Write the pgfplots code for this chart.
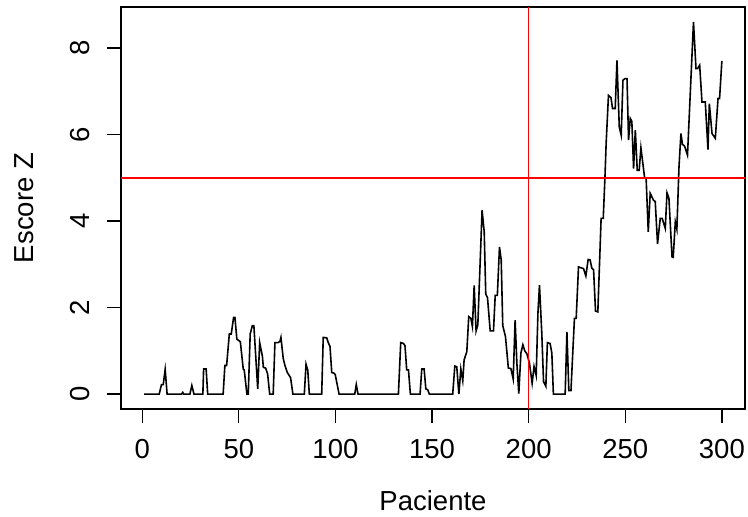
\documentclass[border=0pt]{standalone}
\usepackage{pgfplots}
\pgfplotsset{compat=1.18}
\usepackage{fontspec}
\setmainfont{Liberation Sans}
\begin{document}
\begin{tikzpicture}
\begin{axis}[
  scale only axis, width=624bp, height=402bp,
  xmin=-10.96, xmax=311.96, ymin=-0.344, ymax=8.944,
  axis line style={line width=1.3bp, black},
  xtick={0,50,100,150,200,250,300}, ytick={0,2,4,6,8},
  xtick pos=lower, ytick pos=left,
  tick align=inside, major tick length=-13.5bp,
  every tick/.style={line width=1.3bp, black},
  /pgf/number format/assume math mode=true,
  tick label style={font=\fontsize{27.5bp}{33bp}\selectfont},
  label style={font=\fontsize{27.5bp}{33bp}\selectfont},
  xticklabel style={anchor=base, yshift=-49.3bp},
  yticklabel style={rotate=90, anchor=base, yshift=31.7bp},
  xlabel={Paciente}, ylabel={Escore Z},
  xlabel style={at={([yshift=-101bp]axis description cs:0.5,0)}, anchor=base},
  ylabel style={at={([xshift=-87.7bp]axis description cs:0,0.5)}, anchor=base, rotate=0},
  clip=true,
]
\addplot[black, line width=1.6bp] coordinates {
(1,0) (8.8,0) (10.0,0.22) (10.9,0.22) (11.9,0.57) (12.9,0) (20.4,0) (21.0,0.04) (21.5,0)
(24.7,0) (25.7,0.2) (26.8,0) (31.4,0) (31.8,0.58) (33.1,0.58) (33.9,0)
(41.9,0) (42.8,0.66) (43.7,0.66) (45.1,1.39) (46.1,1.39) (47.3,1.77) (48.0,1.77)
(49.0,1.27) (50.8,1.21) (52.3,0.58) (52.8,0.56) (54.2,0) (54.9,0) (55.9,1.39)
(57.0,1.58) (57.8,1.58) (59.8,0.12) (60.8,1.19) (62.2,0.88) (62.7,0.62) (63.9,0.6)
(64.9,0.47) (66.0,0) (67.8,0) (68.7,1.19) (70.4,1.19) (71.3,1.22) (71.8,1.31)
(73.0,0.82) (73.9,0.66) (75.1,0.5) (76.8,0.38) (78.0,0) (83.9,0) (84.8,0.69)
(85.7,0.55) (86.5,0) (92.9,0) (93.7,1.31) (95.5,1.3) (96.3,1.19) (97.2,1.1)
(98.1,0.5) (99.4,0.48) (99.9,0.45) (101.9,0) (110.0,0) (110.8,0.22) (111.7,0)
(132.6,0) (133.8,1.19) (135.2,1.17) (136.0,1.12) (136.9,0.56) (137.8,0.56) (138.8,0)
(143.8,0) (144.7,0.58) (145.9,0.58) (146.8,0.12) (147.8,0.1) (148.6,0)
(160.7,0) (161.8,0.65) (162.8,0.63) (163.9,0) (164.9,0.58) (165.9,0.31) (166.6,0.79)
(168.0,0.98) (169.0,1.79) (170.1,1.75) (170.9,1.56) (171.8,2.51) (172.8,1.46)
(173.7,1.6) (175.9,4.25) (177.0,3.75) (177.8,2.31) (178.7,2.23) (180.1,1.46)
(181.8,1.46) (182.7,2.28) (183.8,2.28) (184.9,3.4) (185.8,3.1) (186.6,1.58)
(188.0,1.33) (189.5,0.6) (190.8,0.59) (192.0,0.35) (193.0,1.71) (193.9,0.72)
(194.9,0.01) (196.0,0.95) (197.0,1.14) (198.0,1.0) (199.1,0.93) (200.4,0.72)
(201.8,0.25) (202.8,0.64) (203.9,0.43) (204.8,1.87) (205.6,2.52) (206.8,1.41)
(207.7,0.29) (208.9,0.18) (209.7,1.19) (211.1,1.17) (212.0,0.95) (212.8,0)
(218.9,0) (219.8,1.44) (220.8,0.08) (221.9,0.08) (222.9,1.02) (223.7,1.75)
(224.6,1.75) (225.8,2.94) (227.0,2.92) (228.4,2.9) (229.6,2.73) (230.8,3.11)
(231.8,3.1) (232.7,2.91) (233.6,2.87) (234.6,1.92) (235.8,1.9) (237.5,4.06)
(238.6,4.06) (239.5,5.02) (240.1,5.79) (241.3,6.9) (242.6,6.85) (243.4,6.6)
(244.8,6.6) (245.7,7.71) (246.9,6.17) (247.9,5.98) (248.8,7.25) (249.8,7.29)
(250.9,7.29) (251.7,5.87) (252.6,6.37) (253.4,6.3) (254.3,5.21) (255.2,6.1)
(256.2,5.17) (257.2,5.17) (258.1,5.69) (259.1,5.33) (260.0,5.0) (260.8,4.98)
(261.9,3.75) (262.9,4.64) (264.6,4.48) (265.5,4.45) (266.7,3.47) (268.1,4.06)
(269.1,4.06) (270.7,3.83) (271.6,4.65) (272.6,4.52) (274.2,3.17) (274.8,3.16)
(275.9,3.98) (276.7,3.81) (277.8,5.25) (278.8,6.02) (279.6,5.77) (280.7,5.73)
(282.2,5.52) (285.3,8.6) (286.6,7.52) (287.4,7.52) (288.5,7.6) (289.7,6.75)
(291.4,6.75) (292.8,5.65) (293.5,6.71) (294.9,6.02) (296.6,5.91) (298.0,6.83)
(298.8,6.83) (300,7.7)
};
\addplot[red, line width=1.6bp] coordinates {(200,-0.344) (200,8.944)};
\addplot[red, line width=1.6bp] coordinates {(-10.96,5) (311.96,5)};
\end{axis}
\pgfresetboundingbox
\path[use as bounding box] ([xshift=-121bp,yshift=-108bp]current axis.south west) rectangle ++(748bp,517bp);
\end{tikzpicture}
\end{document}
